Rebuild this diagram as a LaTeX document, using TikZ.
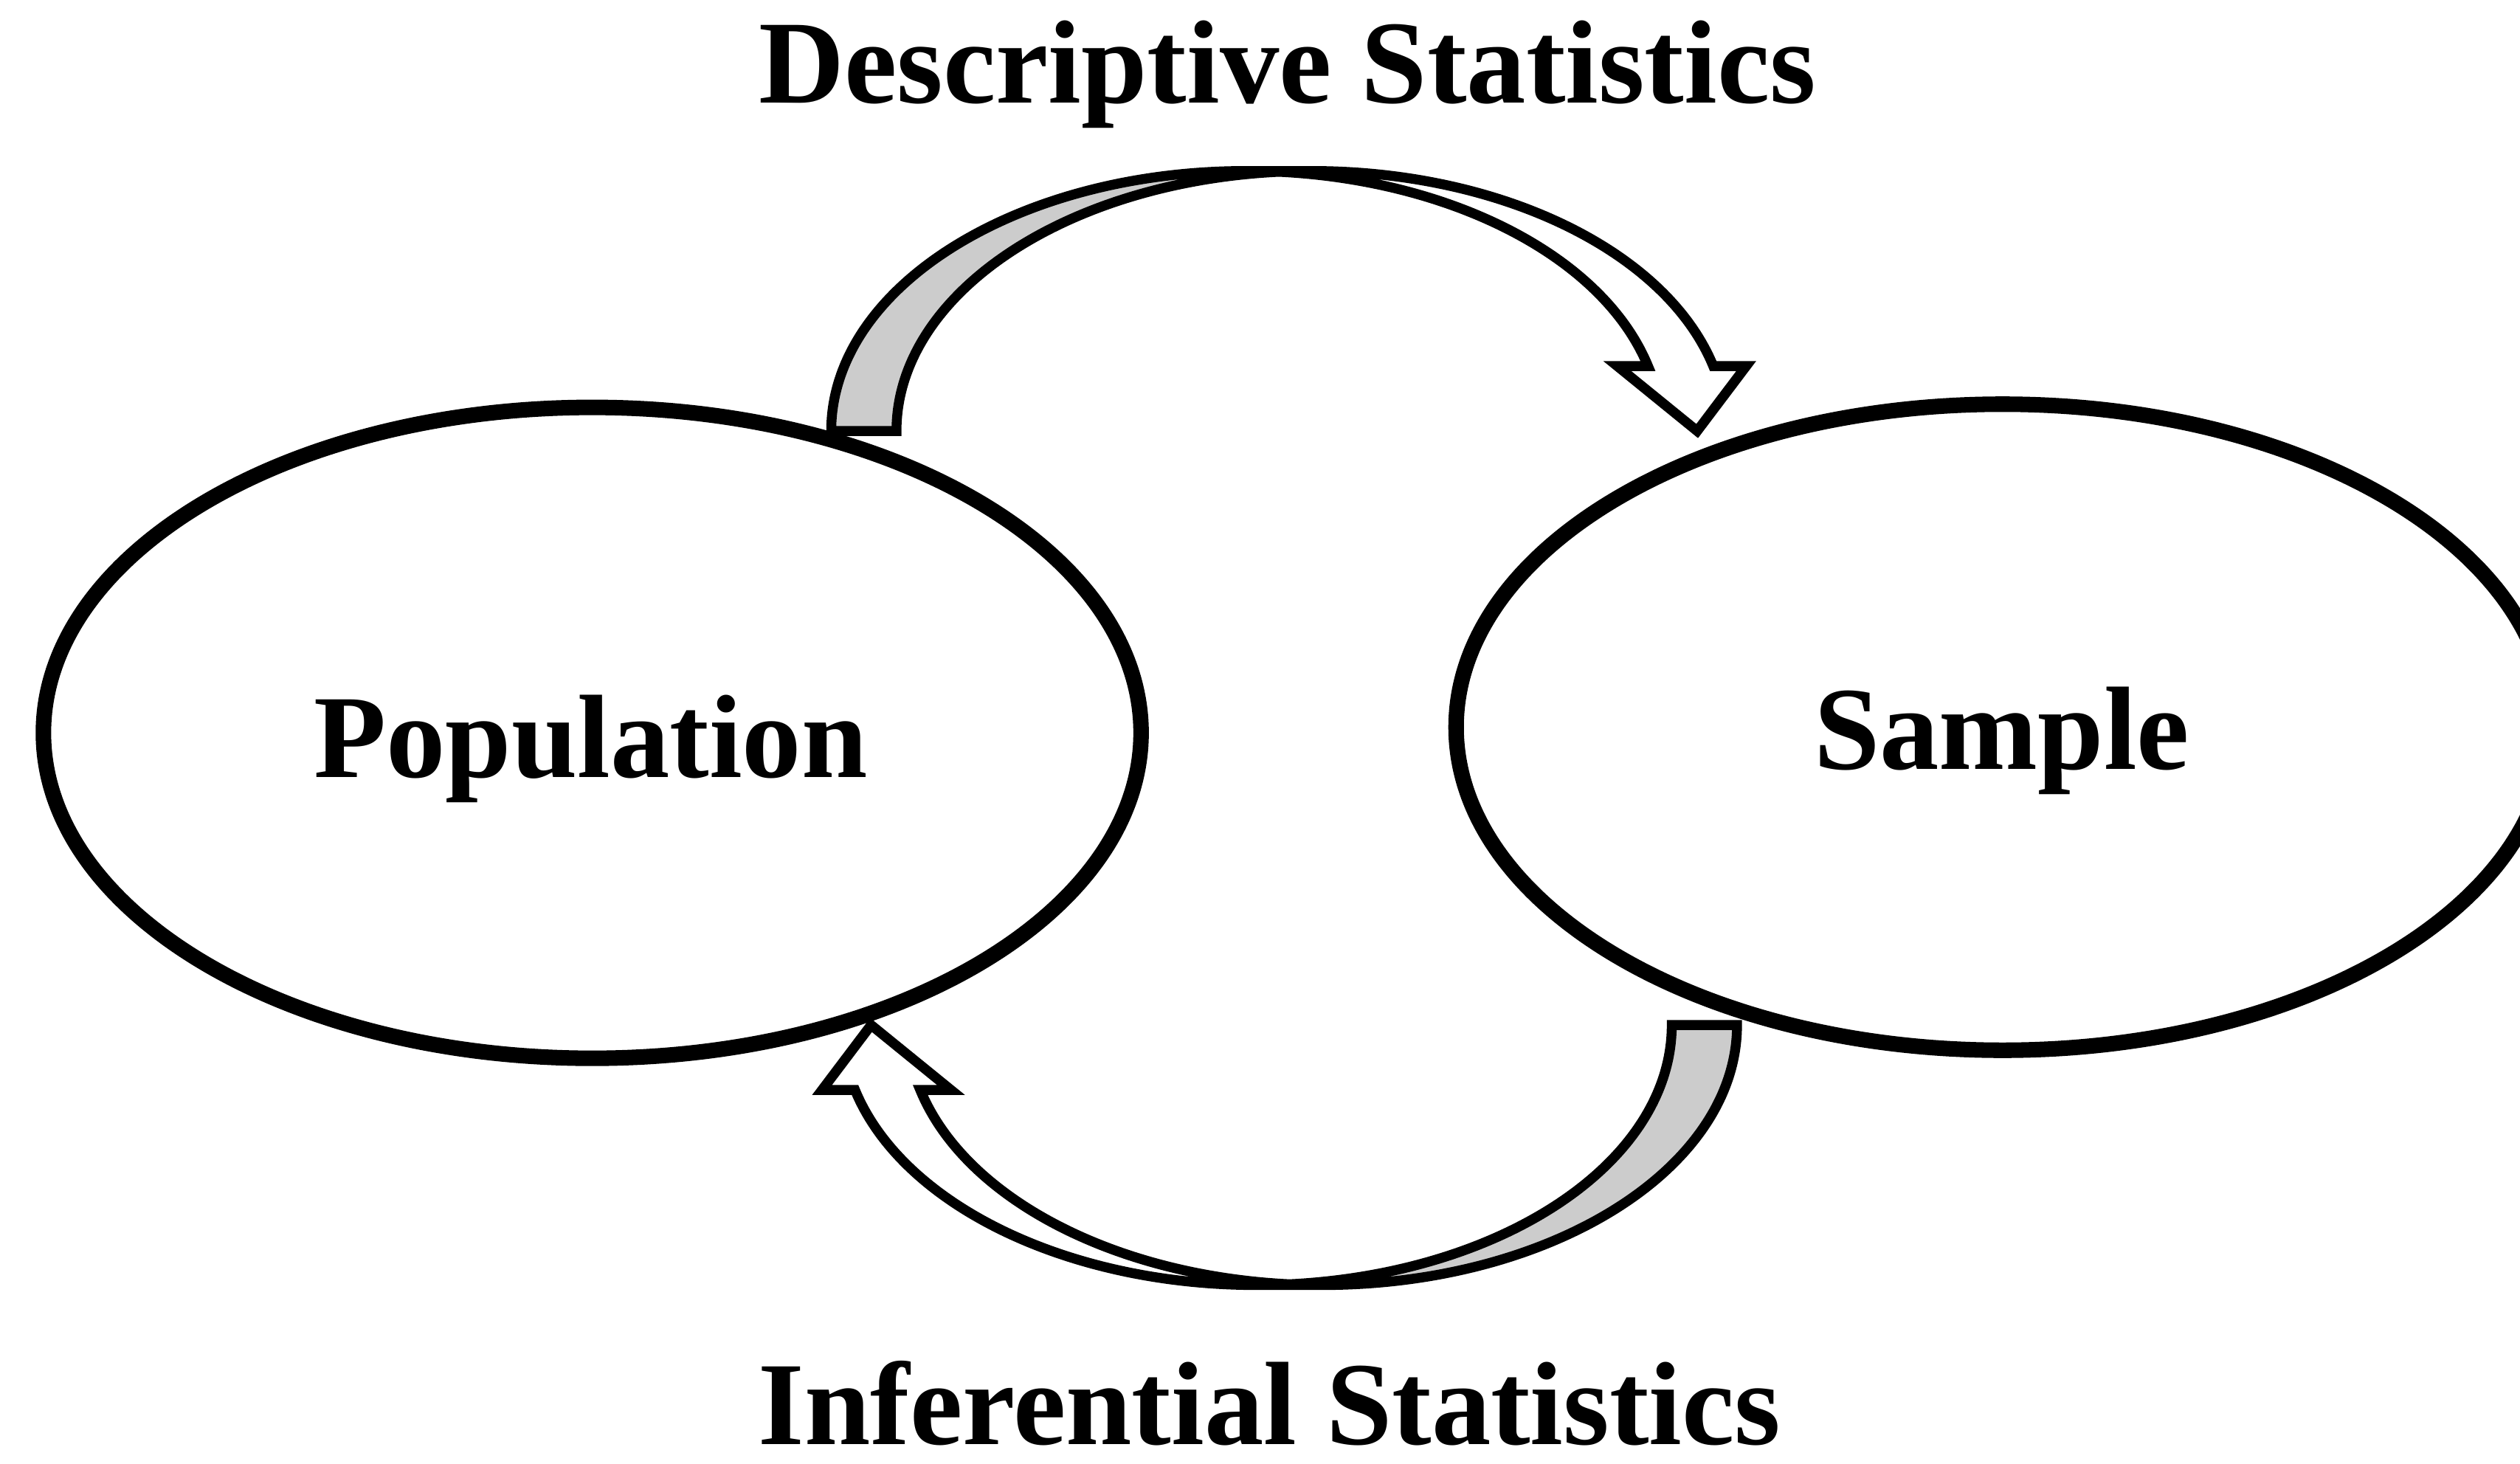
\documentclass[tikz,border=0pt]{standalone}
\usepackage{fontspec}
\setmainfont{Liberation Serif}
\usepackage{tikz}
\definecolor{rueckgrau}{HTML}{CCCCCC}
\tikzset{
  menge/.style={draw=black,line width=5.5pt},
  pfeilrand/.style={draw=black,line width=3.5pt,line join=miter},
  pfeilrueck/.style={fill=rueckgrau},
  pfeilvorn/.style={fill=white},
  bogen/.style={x radius=5.164,y radius=3.236},
  titel/.style={font=\fontsize{42}{50}\selectfont\bfseries,anchor=base,inner sep=0pt},
}
% Bogenpfeil aus zwei gleich grossen Ellipsen, Mittelpunkte (15.508,12.846) und (16.320,12.846)
\newcommand{\bogenpfeil}{%
  % --- Rueckseite: grau ---
  \fill[pfeilrueck] (15.914,16.072) arc[bogen,start angle=94.51,end angle=180]
    -- (10.344,12.846) arc[bogen,start angle=180,end angle=85.49] -- cycle;
  % --- Vorderseite mit Spitze ---
  \fill[pfeilvorn] (21.12,12.846) -- (20.126,13.654) -- (20.508,13.654)
    arc[bogen,start angle=14.46,end angle=90] -- (16.320,16.082)
    arc[bogen,start angle=90,end angle=14.46] -- (21.73,13.654) -- cycle;
  % --- Umriss ---
  \draw[pfeilrand] (15.914,16.072) arc[bogen,start angle=94.51,end angle=180]
    -- (10.344,12.846) arc[bogen,start angle=180,end angle=90]
    -- (16.320,16.082) arc[bogen,start angle=90,end angle=14.46]
    -- (21.73,13.654) -- (21.12,12.846) -- (20.126,13.654) -- (20.508,13.654)
    arc[bogen,start angle=14.46,end angle=90];
}

\begin{document}
\begin{tikzpicture}
  \path[use as bounding box,fill=white] (0,0) rectangle (31.36,18.21);
  \draw[menge] (7.37,9.09) ellipse[x radius=6.83,y radius=4.05];
  \draw[menge] (24.92,9.16) ellipse[x radius=6.80,y radius=4.02];
  \node[titel] (pop) at (7.35,8.54) {Population};
  \node[titel] (stich) at (24.91,8.64) {Sample};
  % --- oberer Pfeil ---
  \bogenpfeil
  % --- unterer Pfeil: um 180 Grad gedreht ---
  \begin{scope}[rotate around={180:(15.98,9.15)}]
    \bogenpfeil
  \end{scope}
  \node[titel] (desk) at (16.02,16.93) {Descriptive Statistics};
  \node[titel] (inf) at (15.80,0.23) {Inferential Statistics};
\end{tikzpicture}
\end{document}
